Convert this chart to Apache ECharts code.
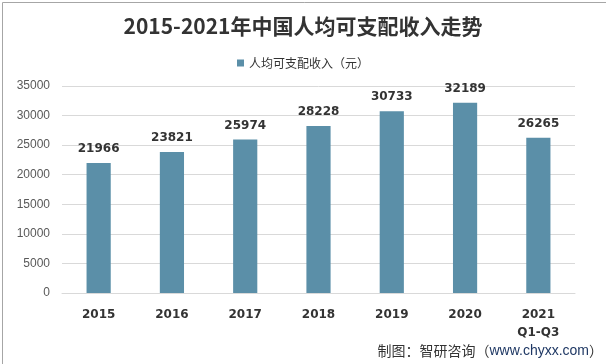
<!DOCTYPE html>
<html><head><meta charset="utf-8">
<script src="https://cdn.jsdelivr.net/npm/echarts@6/dist/echarts.min.js"></script>
<style>html,body{margin:0;padding:0;background:#fff}#c{width:606px;height:364px}</style>
</head><body><div id="c"></div>
<script>
const categories = ['2015','2016','2017','2018','2019','2020','2021\nQ1-Q3'];
const income = [21966, 23821, 25974, 28228, 30733, 32189, 26265];
const seriesName = '人均可支配收入（元）';
const titleText = '2015-2021年中国人均可支配收入走势';

const chart = echarts.init(document.getElementById('c'));
chart.setOption({
  backgroundColor: '#fff',
  animation: false,
  title: {
    text: titleText, left: 'center', top: 11,
    textStyle: {fontFamily: 'Noto Sans CJK SC', fontSize: 21, fontWeight: 'bold', color: '#333'}
  },
  legend: {
    data: [seriesName], top: 52, left: 'center',
    icon: 'rect', itemWidth: 7, itemHeight: 7, itemGap: 4,
    textStyle: {fontFamily: 'Noto Sans CJK SC', fontSize: 12, color: '#333'}
  },
  grid: {left: 62, right: 31, top: 86, bottom: 71},
  xAxis: {
    type: 'category', data: categories,
    axisLine: {lineStyle: {color: '#d9d9d9'}},
    axisTick: {show: false},
    axisLabel: {fontFamily: 'DejaVu Sans', fontWeight: 'bold', fontSize: 12, color: '#333', margin: 13, lineHeight: 18}
  },
  yAxis: {
    type: 'value', min: 0, max: 35000, interval: 5000,
    axisLine: {show: false}, axisTick: {show: false},
    splitLine: {lineStyle: {color: '#d9d9d9'}},
    axisLabel: {fontFamily: 'Liberation Sans', fontSize: 12, color: '#595959', margin: 12, formatter: v => String(v)}
  },
  series: [{
    name: seriesName, type: 'bar', data: income, barWidth: '33%',
    itemStyle: {color: '#5b8fa8'},
    label: {show: true, position: 'top', distance: 8, fontFamily: 'DejaVu Sans', fontWeight: 'bold', fontSize: 12, color: '#333'}
  }],
  graphic: [
    {type: 'rect', left: 0, top: 0, shape: {width: 605, height: 363}, style: {fill: 'none', stroke: '#a6a6a6', lineWidth: 1}, silent: true},
    {type: 'text', right: 3, bottom: 6, style: {
      rich: {a: {fontFamily: 'Noto Sans CJK SC', fontSize: 14, fill: '#333'}, b: {fontFamily: 'Liberation Sans', fontSize: 14, fill: '#1f3864'}},
      text: '{a|制图：智研咨询（}{b|www.chyxx.com}{a|）}'
    }}
  ]
});
</script></body></html>
